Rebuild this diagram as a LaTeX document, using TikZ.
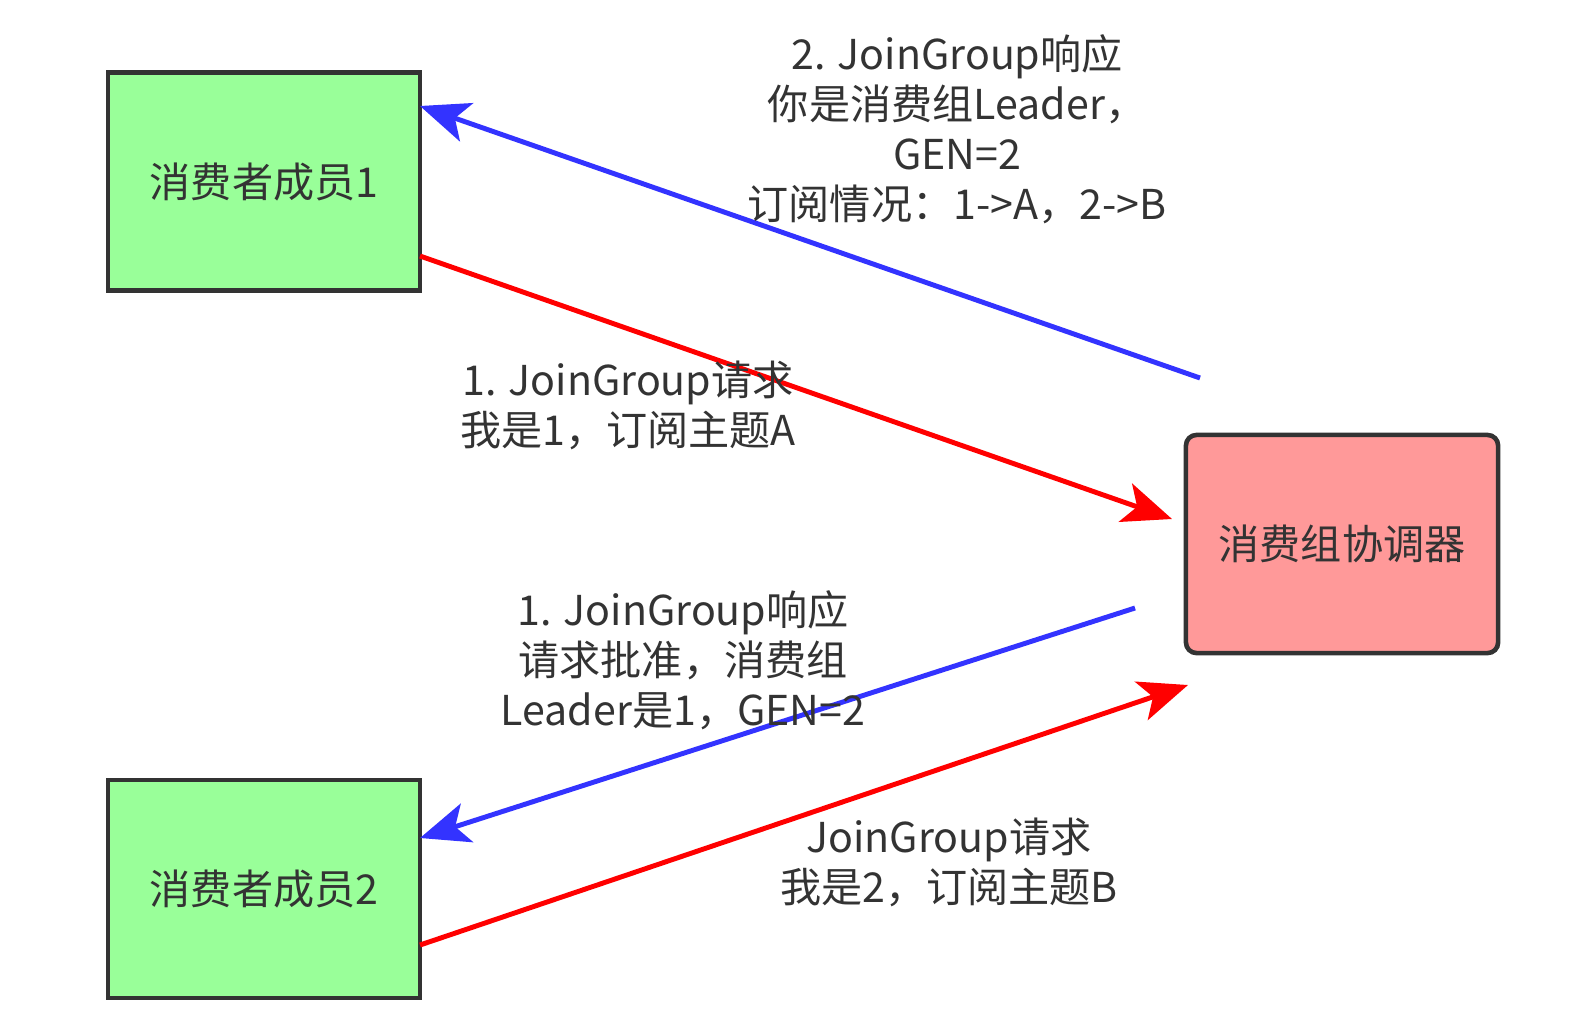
\documentclass[tikz,border=0pt]{standalone}
\usepackage{fontspec}
\newfontfamily\cjk{Noto Sans CJK SC}
\usetikzlibrary{arrows.meta}
\definecolor{boxgreen}{HTML}{99FF99}
\definecolor{boxred}{HTML}{FF9999}
\definecolor{edge}{HTML}{333333}
\definecolor{txt}{HTML}{333333}
\definecolor{reqred}{HTML}{FF0000}
\definecolor{respblue}{HTML}{3333FF}
\tikzset{
  member/.style={draw=edge, line width=1.3pt, fill=boxgreen, minimum width=3.12cm, minimum height=2.18cm, font=\cjk\fontsize{11.7}{14}\selectfont, text=txt, inner sep=0pt},
  coord/.style={member, fill=boxred, rounded corners=3pt},
  lbl/.style={align=center, font=\cjk\fontsize{11.7}{14.2}\selectfont, text=txt, inner sep=0pt},
  req/.style={draw=reqred, line width=1.4pt, -{Stealth[length=14pt,width=11.5pt,inset=3.5pt]}},
  resp/.style={draw=respblue, line width=1.4pt, -{Stealth[length=14pt,width=11.5pt,inset=3.5pt]}},
}
\begin{document}
\begin{tikzpicture}[x=0.01cm,y=-0.01cm]
\useasboundingbox (0,0) rectangle (1577,1024);
\node[member] (m1) at (264,181.5) {消费者成员1};
\node[member] (m2) at (264,889) {消费者成员2};
\node[coord] (co) at (1342,544) {消费组协调器};
% connector end points
\coordinate (m1out) at (420,256);
\coordinate (m1in) at (420,106);
\coordinate (m2in) at (420,838);
\coordinate (m2out) at (420,945);
\coordinate (coin1) at (1172,519);
\coordinate (coout1) at (1200,378);
\coordinate (coout2) at (1135,608);
\coordinate (coin2) at (1188,685);
\draw[req] (m1out) -- (coin1);
\draw[resp] (coout1) -- (m1in);
\draw[resp] (coout2) -- (m2in);
\draw[req] (m2out) -- (coin2);
\node[lbl] (l1) at (957,129) {2. JoinGroup响应\\你是消费组Leader，\\GEN=2\\订阅情况：1->A，2->B};
\node[lbl] (l2) at (628,405) {1. JoinGroup请求\\我是1，订阅主题A};
\node[lbl] (l3) at (683,660) {1. JoinGroup响应\\请求批准，消费组\\Leader是1，GEN=2};
\node[lbl] (l4) at (949,862) {JoinGroup请求\\我是2，订阅主题B};
\end{tikzpicture}
\end{document}
